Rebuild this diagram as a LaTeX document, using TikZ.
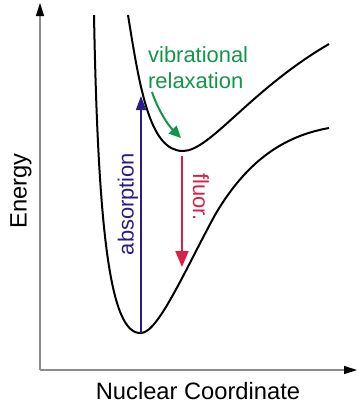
\documentclass[tikz,border=0pt]{standalone}
\usepackage{fontspec}
\setmainfont{Liberation Sans}
\usetikzlibrary{arrows.meta}
\definecolor{absblue}{RGB}{43,27,133}
\definecolor{flred}{RGB}{217,30,72}
\definecolor{vibgreen}{RGB}{18,150,70}
\definecolor{axgray}{RGB}{140,140,140}
\tikzset{
  axis/.style={draw=axgray, line width=1.2bp, -{Triangle[length=13bp,width=8bp,fill=black,color=black]}},
  pes/.style={draw=black, line width=2bp},
  lbl/.style={font=\fontsize{22}{26}\selectfont, inner sep=0pt},
  axlbl/.style={font=\fontsize{23.8}{28}\selectfont, inner sep=0pt},
}
\begin{document}
\begin{tikzpicture}[x=1bp,y=-1bp]
\useasboundingbox (0,0) rectangle (360,410);
% axes
\coordinate (origin) at (40,370);
\coordinate (ytip) at (40,3);
\coordinate (xtip) at (357,370);
\draw[axis] (origin) -- (ytip);
\draw[axis] (origin) -- (xtip);
\node[axlbl, rotate=90] (energy) at (21,191) {Energy};
\node[axlbl] (nuc) at (198,391) {Nuclear Coordinate};
% ground state
\coordinate (g0) at (94,15);
\coordinate (gmin) at (141,333);
\coordinate (gmid) at (215,215);
\coordinate (g1) at (329,128);
\draw[pes] (g0) .. controls (98,230) and (110,335) .. (gmin)
  .. controls (158,333) and (185,270) .. (gmid)
  .. controls (250,155) and (290,135) .. (g1);
% excited state
\coordinate (e0) at (128,15);
\coordinate (emin) at (183,151);
\coordinate (e1) at (329,44);
\draw[pes] (e0) .. controls (140,90) and (150,151) .. (emin)
  .. controls (210,151) and (250,90) .. (e1);
% absorption
\coordinate (abot) at (141,333);
\coordinate (atop) at (141,96);
\draw[absblue, line width=1.6bp, -{Triangle[length=14bp,width=10bp]}] (abot) -- (atop);
\node[lbl, rotate=90, text=absblue] (abs) at (128,204) {absorption};
% fluorescence
\coordinate (ftop) at (182,156);
\coordinate (fbot) at (182,267);
\draw[flred, line width=2bp, -{Triangle[length=16bp,width=13bp]}] (ftop) -- (fbot);
\node[lbl, rotate=-90, text=flred] (fl) at (201,197) {fluor.};
% vibrational relaxation
\node[lbl, text=vibgreen, align=left, anchor=west] (vib) at (148,68) {vibrational\\relaxation};
\coordinate (vstart) at (152,92);
\coordinate (vend) at (181,138);
\draw[vibgreen, line width=2bp, -{Triangle[length=12bp,width=11bp]}] (vstart) .. controls (158,110) and (168,125) .. (vend);
\end{tikzpicture}
\end{document}
